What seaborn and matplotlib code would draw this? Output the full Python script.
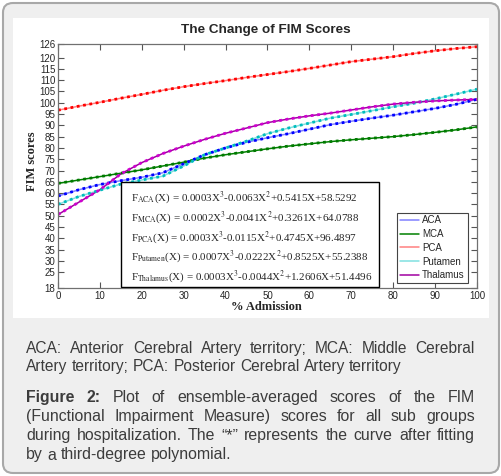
import matplotlib
matplotlib.use("Agg")
import numpy as np
import pandas as pd
import matplotlib.pyplot as plt
from matplotlib.patches import FancyBboxPatch, Rectangle
from matplotlib.lines import Line2D
import seaborn as sns

# values (every 5 % of admission)
admission = list(range(0, 101, 5))
aca = [58.7, 61.5, 63.8, 65.5, 67.0, 69.0, 73.0, 77.0, 80.0, 82.5, 84.5,
       86.3, 88.3, 90.3, 91.8, 93.2, 94.5, 96.0, 97.5, 99.3, 101.5]
mca = [64.3, 65.8, 67.3, 68.8, 70.3, 72.0, 73.7, 75.5, 77.0, 78.3, 79.6,
       80.8, 81.8, 82.8, 83.6, 84.3, 85.0, 85.9, 86.9, 88.0, 89.3]
pca = [96.7, 98.5, 100.2, 102.0, 103.7, 105.5, 107.1, 108.5, 109.8, 111.2, 112.5,
       113.8, 115.2, 116.7, 118.2, 119.3, 120.4, 121.8, 123.0, 124.0, 124.8]
putamen = [55.0, 58.5, 61.3, 64.0, 65.8, 67.5, 72.0, 77.0, 80.0, 83.0, 86.3,
           88.8, 91.0, 93.2, 94.8, 96.5, 98.2, 99.8, 101.7, 103.8, 106.0]
thalamus = [50.5, 56.0, 61.5, 68.5, 73.5, 77.5, 80.8, 83.8, 86.5, 88.8, 91.2,
            92.8, 94.2, 95.4, 96.8, 98.2, 99.4, 100.2, 100.8, 101.2, 101.5]

groups = ["ACA", "MCA", "PCA", "Putamen", "Thalamus"]
raw_colors = ["#8080ff", "#008000", "#ff8080", "#80e0e0", "#a000a0"]
fit_colors = ["#0000ff", "#007a00", "#ff0000", "#00bdbd", "#d000d0"]

equations = [
    r"F$_{\mathrm{ACA}}$(X) = 0.0003X$^{3}$-0.0063X$^{2}$+0.5415X+58.5292",
    r"F$_{\mathrm{MCA}}$(X) = 0.0002X$^{3}$-0.0041X$^{2}$+0.3261X+64.0788",
    r"F$_{\mathrm{PCA}}$(X) = 0.0003X$^{3}$-0.0115X$^{2}$+0.4745X+96.4897",
    r"F$_{\mathrm{Putamen}}$(X) = 0.0007X$^{3}$-0.0222X$^{2}$+0.8525X+55.2388",
    r"F$_{\mathrm{Thalamus}}$(X) = 0.0003X$^{3}$-0.0044X$^{2}$+1.2606X+51.4496",
]

yticks = [18] + list(range(25, 121, 5)) + [126]

note_lines = ["ACA: Anterior Cerebral Artery territory; MCA: Middle Cerebral",
              "Artery territory; PCA: Posterior Cerebral Artery territory"]
caption_lines = ["Figure 2: Plot of ensemble-averaged scores of the FIM",
                 "(Functional Impairment Measure) scores for all sub groups",
                 "during hospitalization. The \u201c*\u201d represents the curve after fitting",
                 "by a third-degree polynomial."]

df = pd.DataFrame({
    "admission": admission * 5,
    "score": aca + mca + pca + putamen + thalamus,
    "group": [g for g in groups for _ in admission],
})

sns.set_theme(style="ticks")
plt.rcParams["font.family"] = ["Liberation Sans", "DejaVu Sans"]
plt.rcParams["mathtext.fontset"] = "stix"

W, H = 502, 476
fig = plt.figure(figsize=(W / 100, H / 100), dpi=100, facecolor="white")


def fx(x):
    return x / W


def fy(y):
    return 1 - y / H


fig.patches.append(FancyBboxPatch((fx(3), fy(473)), fx(496), 470 / H,
                                  boxstyle="round,pad=0,rounding_size=0.02",
                                  transform=fig.transFigure, fc="#efefef",
                                  ec="#a8a8a8", lw=1.5, zorder=-3))
fig.patches.append(Rectangle((fx(13), fy(318)), fx(476), 300 / H,
                             transform=fig.transFigure, fc="white", ec="none",
                             zorder=-2))

ax = fig.add_axes([fx(58), fy(288), fx(419), 244 / H])
ax.set_facecolor("white")

sns.lineplot(data=df, x="admission", y="score", hue="group", hue_order=groups,
             palette=raw_colors, lw=1.1, errorbar=None, legend=False, ax=ax)
sns.lineplot(data=df, x="admission", y="score", hue="group", hue_order=groups,
             palette=fit_colors, lw=2.0, linestyle=(0, (1, 1.3)), errorbar=None,
             legend=False, ax=ax)

ax.set_xlim(0, 100)
ax.set_ylim(18, 126)
ax.set_xticks(range(0, 101, 10))
ax.set_yticks(yticks)
ax.set_xlabel("")
ax.set_ylabel("")
ax.tick_params(direction="in", top=True, right=True, length=4, width=0.8,
               labelsize=7, pad=2, color="#555555")
for s in ax.spines.values():
    s.set_color("#707070")
    s.set_linewidth(0.9)

# equation box
ax.add_patch(Rectangle((0.15, 0.004), 0.616, 0.43, transform=ax.transAxes,
                       fc="white", ec="black", lw=1.0, zorder=5))
for eq, y in zip(equations, [198, 217.5, 237.5, 257, 276.5]):
    ax.text(fx(131), fy(y), eq, transform=fig.transFigure, va="center",
            family="Liberation Serif", size=7.9, zorder=6)

handles = [Line2D([], [], color=c, lw=1.1) for c in raw_colors]
leg = ax.legend(handles, groups, loc="lower right", bbox_to_anchor=(0.978, 0.02),
                fontsize=7, frameon=True, fancybox=False, framealpha=1,
                edgecolor="#444444", handlelength=2.0, borderpad=0.3,
                labelspacing=0.38, handletextpad=0.3, borderaxespad=0)
leg.get_frame().set_linewidth(0.8)

fig.text(fx(266), fy(30), "The Change of FIM Scores", ha="center", va="center",
         weight="bold", size=9.7)
fig.text(fx(32), fy(161), "FIM scores", rotation=90, ha="center", va="center",
         family="Liberation Serif", weight="bold", size=9)
fig.text(fx(266), fy(307), "% Admission", ha="center", va="center",
         family="Liberation Serif", weight="bold", size=9)

renderer = fig.canvas.get_renderer()


def put_line(line, y, size, justify, x0=26, x1=475):
    texts = []
    for w in line.split(" "):
        bold = w in ("Figure", "2:") and line.startswith("Figure")
        texts.append(fig.text(0, fy(y), w, size=size, va="baseline", color="#3c3c3c",
                              weight="bold" if bold else "normal"))
    widths = [t.get_window_extent(renderer).width for t in texts]
    if justify:
        gap = (x1 - x0 - sum(widths)) / (len(texts) - 1)
    else:
        gap = 0.278 * size * 100 / 72
    x = x0
    for t, wd in zip(texts, widths):
        t.set_x(fx(x))
        x += wd + gap


for i, (line, y) in enumerate(zip(note_lines, [353, 371])):
    put_line(line, y, 11.2, i < len(note_lines) - 1)
for i, (line, y) in enumerate(zip(caption_lines, [402, 421, 440, 459.5])):
    put_line(line, y, 11.4, i < len(caption_lines) - 1)

fig.savefig("out.png", dpi=100, facecolor=fig.get_facecolor())
